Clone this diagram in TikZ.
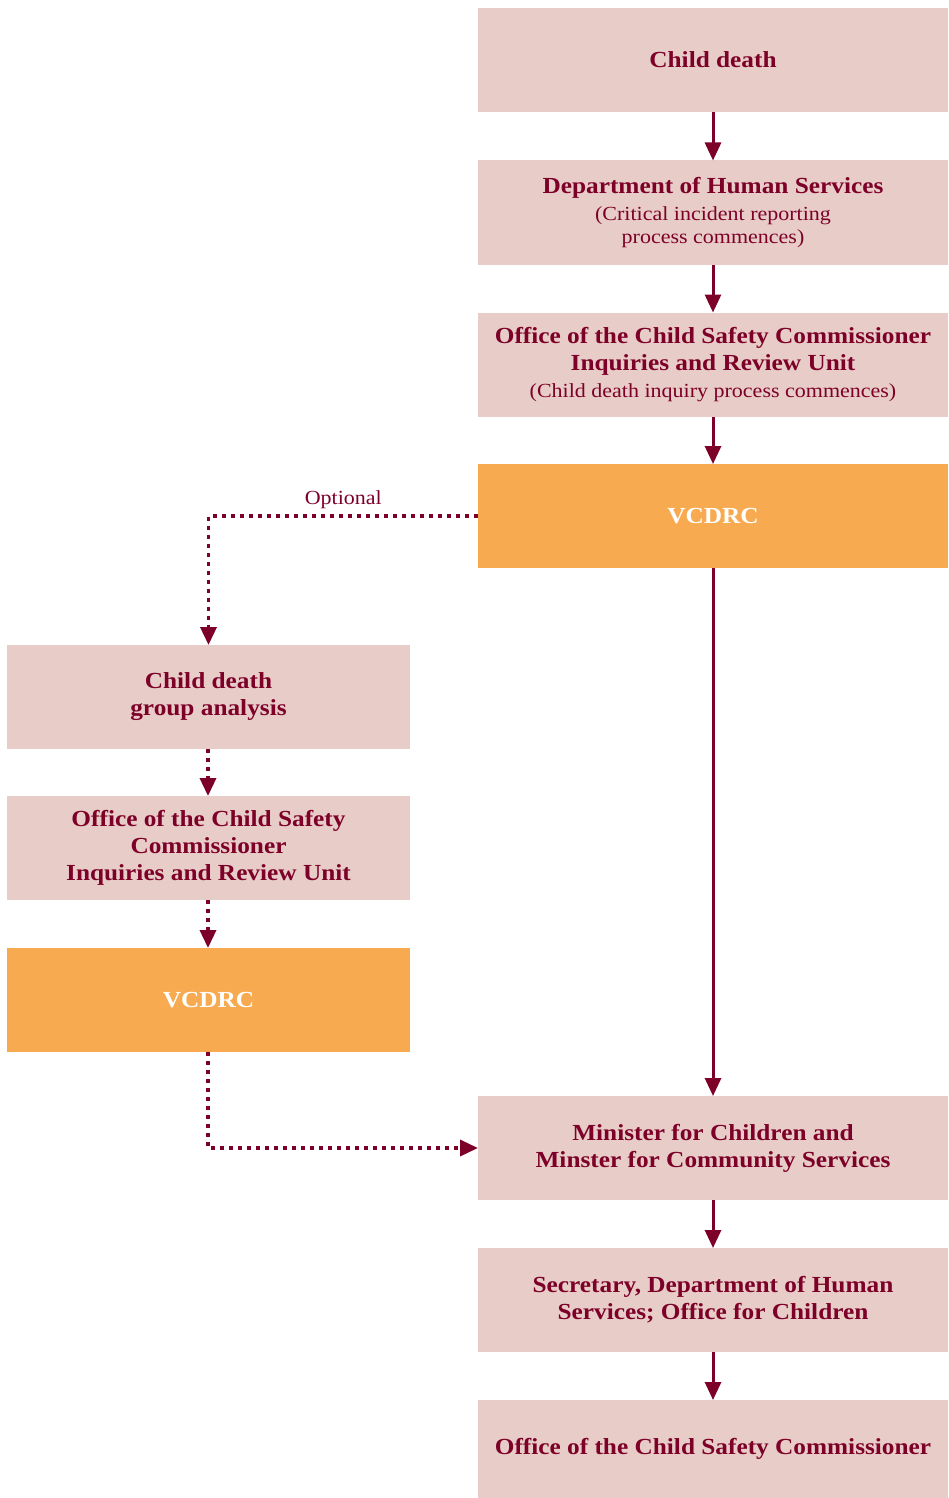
\documentclass[tikz,border=0pt]{standalone}
\usepackage{fontspec}
\setmainfont{Liberation Serif}[FakeStretch=1.1]
\usetikzlibrary{arrows.meta}

\definecolor{stagepink}{HTML}{E8CCC7}
\definecolor{stageorange}{HTML}{F8AA50}
\definecolor{wine}{HTML}{7D0028}

\begin{document}
\begin{tikzpicture}[x=1pt,y=-1pt,>={Triangle[length=18pt,width=16pt]},
  stage/.style={fill=stagepink, text=wine, align=center, inner sep=0pt, outer sep=0pt,
    minimum width=470pt, minimum height=104pt, font=\fontsize{23}{27}\selectfont\bfseries},
  narrow/.style={stage, minimum width=403pt},
  review/.style={stage, fill=stageorange, text=white},
  flow/.style={draw=wine, line width=3pt},
  optflow/.style={draw=wine, line width=3.5pt, dash pattern=on 4pt off 5pt}]
  \useasboundingbox (0,0) rectangle (948,1498);
  % main column
  \node[stage] (death) at (713,60) {Child death};
  \node[stage] (dhs) at (713,212.5) {Department of Human Services\\[0pt]
    {\mdseries\fontsize{20}{24}\selectfont (Critical incident reporting}\\[-4pt]
    {\mdseries\fontsize{20}{24}\selectfont process commences)}};
  \node[stage] (inquiry) at (713,364.5) {Office of the Child Safety Commissioner\\
    Inquiries and Review Unit\\[0pt]
    {\mdseries\fontsize{20}{24}\selectfont (Child death inquiry process commences)}};
  \node[review] (vcdrc) at (713,516) {VCDRC};
  \node[stage] (minister) at (713,1148) {Minister for Children and\\Minster for Community Services};
  \node[stage] (secretary) at (713,1300) {Secretary, Department of Human\\Services; Office for Children};
  \node[stage, minimum height=98pt] (ocsc) at (713,1449) {Office of the Child Safety Commissioner};
  % optional branch
  \node[narrow] (group) at (208.5,697) {Child death\\group analysis};
  \node[narrow] (branchinq) at (208.5,848) {Office of the Child Safety\\Commissioner\\Inquiries and Review Unit};
  \node[review, minimum width=403pt] (branchvc) at (208.5,1000) {VCDRC};

  \draw[flow,->] (death) -- (dhs);
  \draw[flow,->] (dhs) -- (inquiry);
  \draw[flow,->] (inquiry) -- (vcdrc);
  \draw[flow,->] (vcdrc) -- (minister);
  \draw[flow,->] (minister) -- (secretary);
  \draw[flow,->] (secretary) -- (ocsc);

  \draw[optflow,->] (vcdrc.west) -| node[pos=0.25, above=2pt, text=wine,
    font=\fontsize{20}{22}\selectfont] (optional) {Optional} (group.north);
  \draw[optflow,->] (group.south -| 208,0) -- (branchinq.north -| 208,0);
  \draw[optflow,->] (branchinq.south -| 208,0) -- (branchvc.north -| 208,0);
  \draw[optflow,->] (branchvc.south -| 208,0) |- (minister.west);
\end{tikzpicture}
\end{document}
